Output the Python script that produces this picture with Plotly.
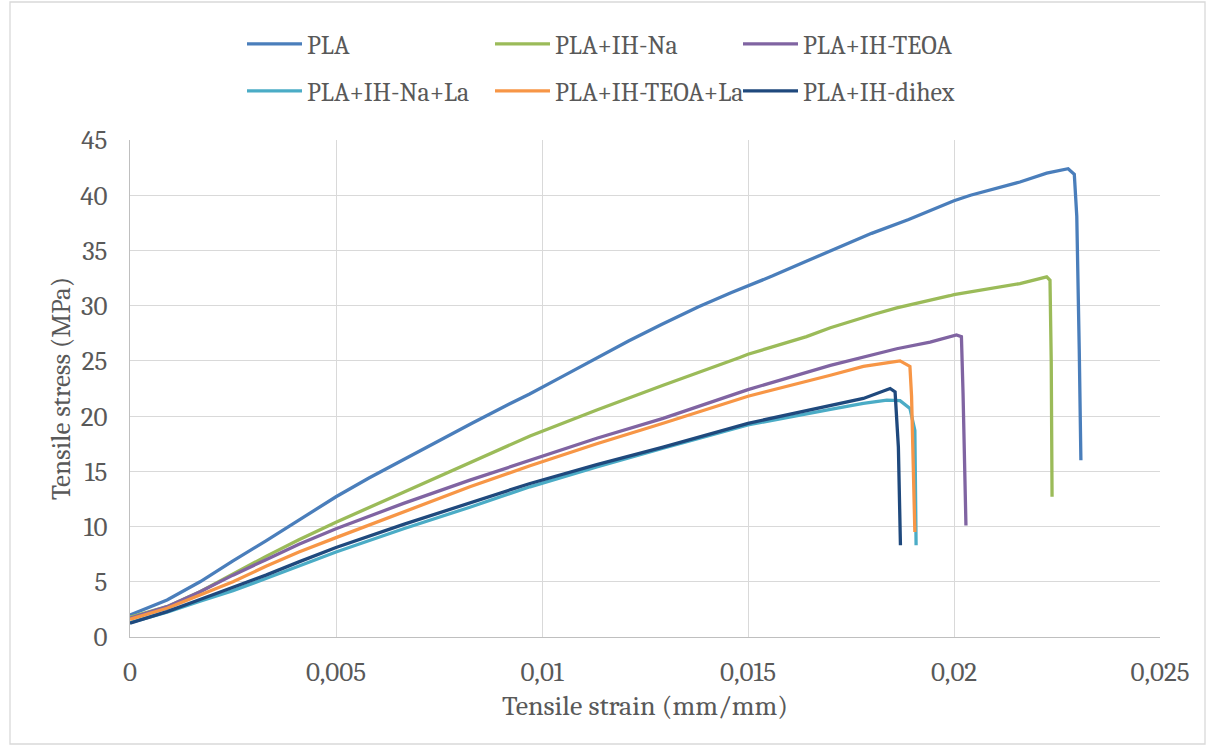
import plotly.graph_objects as go

# strain (mm/mm) and stress (MPa) per series
pla_x = [0, 0.0009, 0.0017, 0.0025, 0.0033, 0.0041, 0.005, 0.0058, 0.0066, 0.0074, 0.0083, 0.0091, 0.0097,
         0.0105, 0.0113, 0.0121, 0.0129, 0.0138, 0.0146, 0.015, 0.0156, 0.0164, 0.0172, 0.018, 0.0189,
         0.020, 0.0204, 0.0216, 0.02225, 0.02257, 0.02277, 0.02292, 0.02298, 0.02304, 0.02308]
pla_y = [2.0, 3.35, 5.0, 6.9, 8.7, 10.6, 12.7, 14.4, 16.0, 17.6, 19.35, 20.9, 22.0,
         23.6, 25.2, 26.8, 28.3, 29.9, 31.2, 31.8, 32.7, 34.0, 35.3, 36.55, 37.8,
         39.5, 40.0, 41.2, 42.0, 42.2, 42.4, 41.9, 38.1, 26.0, 16.0]

na_x = [0, 0.0009, 0.0017, 0.0025, 0.0033, 0.0041, 0.005, 0.00664, 0.00825, 0.00971, 0.01133, 0.01294,
        0.0148, 0.015, 0.01642, 0.0170, 0.01804, 0.01861, 0.0199, 0.0200, 0.0216, 0.02225, 0.02233,
        0.02236, 0.02238]
na_y = [1.8, 2.75, 4.1, 5.7, 7.3, 8.8, 10.4, 13.1, 15.8, 18.2, 20.55, 22.8,
        25.3, 25.6, 27.2, 28.0, 29.2, 29.8, 30.9, 31.0, 32.0, 32.6, 32.3,
        25.0, 12.7]

teoa_x = [0, 0.0009, 0.0017, 0.0025, 0.0033, 0.0041, 0.005, 0.00664, 0.00825, 0.00971, 0.01133, 0.01294,
          0.015, 0.0170, 0.01861, 0.01942, 0.0199, 0.02006, 0.02018, 0.02022, 0.02029]
teoa_y = [1.7, 2.75, 4.1, 5.6, 7.0, 8.4, 9.8, 12.1, 14.2, 16.0, 18.0, 19.8,
          22.4, 24.6, 26.1, 26.7, 27.2, 27.35, 27.2, 22.0, 10.1]

nala_x = [0, 0.0009, 0.0017, 0.0025, 0.0033, 0.0041, 0.005, 0.00664, 0.00825, 0.00971, 0.01133, 0.01294,
          0.015, 0.0170, 0.0178, 0.01837, 0.01869, 0.01893, 0.01905, 0.01908]
nala_y = [1.3, 2.25, 3.25, 4.2, 5.3, 6.4, 7.7, 9.8, 11.75, 13.6, 15.4, 17.1,
          19.2, 20.6, 21.15, 21.45, 21.4, 20.7, 18.7, 8.3]

teoala_x = [0, 0.0009, 0.0017, 0.0025, 0.0033, 0.0041, 0.005, 0.00664, 0.00825, 0.00971, 0.01133, 0.01294,
            0.015, 0.0170, 0.0178, 0.01861, 0.01869, 0.01893, 0.01897, 0.01901, 0.01905]
teoala_y = [1.6, 2.6, 3.8, 5.0, 6.4, 7.7, 9.0, 11.3, 13.6, 15.5, 17.5, 19.35,
            21.8, 23.7, 24.5, 24.95, 25.0, 24.5, 21.8, 15.7, 9.5]

dihex_x = [0, 0.0009, 0.0017, 0.0025, 0.0033, 0.0041, 0.005, 0.00664, 0.00825, 0.00971, 0.01133, 0.01294,
           0.015, 0.0170, 0.0178, 0.01845, 0.01857, 0.01865, 0.0187]
dihex_y = [1.25, 2.3, 3.4, 4.5, 5.6, 6.8, 8.1, 10.2, 12.1, 13.9, 15.6, 17.2,
           19.35, 21.0, 21.6, 22.5, 22.2, 17.2, 8.3]

series = [
    ("PLA", pla_x, pla_y, "#4A7EBB", "legend"),
    ("PLA+IH-Na", na_x, na_y, "#9BBB59", "legend"),
    ("PLA+IH-TEOA", teoa_x, teoa_y, "#8064A2", "legend"),
    ("PLA+IH-Na+La", nala_x, nala_y, "#4BACC6", "legend2"),
    ("PLA+IH-TEOA+La", teoala_x, teoala_y, "#F79646", "legend2"),
    ("PLA+IH-dihex", dihex_x, dihex_y, "#1F497D", "legend2"),
]

x_ticks = [0, 0.005, 0.01, 0.015, 0.02, 0.025]
x_tick_labels = ["0", "0,005", "0,01", "0,015", "0,02", "0,025"]
y_ticks = [0, 5, 10, 15, 20, 25, 30, 35, 40, 45]

FONT = "Caladea"
TXT = "#595959"

fig = go.Figure()
for name, xs, ys, col, lg in series:
    fig.add_trace(go.Scatter(x=xs, y=ys, mode="lines", name=name,
                             line=dict(color=col, width=3.3),
                             legend=lg))

W, H = 1215, 746
L, R, T, B = 130, 55, 140, 109
pw, ph = W - L - R, H - T - B

def px(x):
    return (x - L) / pw

def py(y):
    return (H - B - y) / ph

legend_common = dict(orientation="h", xanchor="left", yanchor="middle",
                     font=dict(family=FONT, size=26, color=TXT),
                     entrywidth=178, entrywidthmode="pixels",
                     bgcolor="rgba(0,0,0,0)", itemwidth=55, tracegroupgap=0)

fig.update_layout(
    width=W, height=H,
    margin=dict(l=L, r=R, t=T, b=B),
    paper_bgcolor="white", plot_bgcolor="white",
    font=dict(family=FONT, color=TXT),
    legend=dict(x=px(242), y=py(44), **legend_common),
    legend2=dict(x=px(242), y=py(91), **legend_common),
    xaxis=dict(range=[0, 0.025], tickvals=x_ticks, ticktext=x_tick_labels,
               showgrid=True, gridcolor="#D9D9D9", gridwidth=1.3,
               showline=True, linecolor="#BFBFBF", linewidth=1.3, mirror=False,
               zeroline=False, ticks="outside", ticklen=10, tickcolor="rgba(0,0,0,0)",
               tickfont=dict(family=FONT, size=27, color=TXT),
               title=dict(text="Tensile strain (mm/mm)", font=dict(family=FONT, size=28, color=TXT), standoff=8)),
    yaxis=dict(range=[0, 45], tickvals=y_ticks,
               showgrid=True, gridcolor="#D9D9D9", gridwidth=1.3,
               showline=True, linecolor="#BFBFBF", linewidth=1.3,
               zeroline=False, ticks="outside", ticklen=16, tickcolor="rgba(0,0,0,0)",
               tickfont=dict(family=FONT, size=27, color=TXT),
               title=dict(text="Tensile stress (MPa)", font=dict(family=FONT, size=27, color=TXT), standoff=1)),
    shapes=[dict(type="rect", xref="paper", yref="paper",
                 x0=px(10), x1=px(1205), y0=py(744), y1=py(2),
                 line=dict(color="#D9D9D9", width=1.3), fillcolor="rgba(0,0,0,0)", layer="below")],
    showlegend=True,
)

fig.write_html("out.html")
